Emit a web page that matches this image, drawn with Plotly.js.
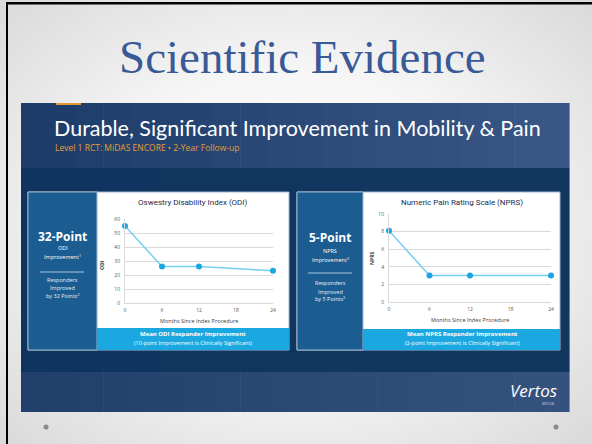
<!DOCTYPE html>
<html><head><meta charset="utf-8">
<script src="https://cdn.plot.ly/plotly-3.0.1.min.js"></script>
<style>
html,body{margin:0;padding:0;width:592px;height:444px;overflow:hidden;
background: radial-gradient(ellipse 75% 75% at 50% 50%, #ffffff 0%, #f6f6f6 45%, #d6d6d6 100%);}
#chart{width:592px;height:444px;}
</style></head><body><div id="chart"></div>
<script>
// ---- data ----
const months = [0, 6, 12, 24];
const odiValues = [55, 26, 26, 23];
const nprsValues = [8.1, 3.0, 3.0, 3.0];
const monthTicks = [0, 6, 12, 18, 24];
const odiTicks = [0, 10, 20, 30, 40, 50, 60];
const nprsTicks = [0, 2, 4, 6, 8, 10];

const W = 592, H = 444;
const px = x => x / W;
const py = y => 1 - y / H;

function lerpColor(a, b, t) {
  const pa = a.match(/\w\w/g).map(h => parseInt(h, 16));
  const pb = b.match(/\w\w/g).map(h => parseInt(h, 16));
  return 'rgb(' + pa.map((v, i) => Math.round(v + (pb[i] - v) * t)).join(',') + ')';
}

const shapes = [];
function rect(x0, y0, x1, y1, fill, line) {
  shapes.push({type: 'rect', xref: 'paper', yref: 'paper', x0: px(x0), x1: px(x1), y0: py(y1), y1: py(y0),
    fillcolor: fill, line: line || {width: 0}, layer: 'below'});
}
function strips(x0, x1, y0, y1, c0, c1, n) {
  const w = (x1 - x0) / n;
  for (let i = 0; i < n; i++) rect(x0 + i * w, y0, x0 + (i + 1) * w + 0.6, y1, lerpColor(c0, c1, (i + 0.5) / n));
}

// slide frame
rect(6, 2, 592, 4.5, '#000000');
rect(6, 2, 8, 444, '#000000');
// dark panel
strips(21, 569, 103, 168, '1d3b69', '3a5787', 20);
strips(21, 569, 168, 372, '0e335f', '12375f', 4);
strips(21, 569, 372, 412, '223f6c', '35527f', 20);
rect(56, 103, 81, 105, '#e19a33');

// cards
function card(x0, xb, x1, y0, yc, y1) {
  rect(x0, y0, x1, y1, '#ffffff', {color: '#9fb6d0', width: 1});
  rect(x0, y0, xb, y1, '#1b5d91', {color: '#9fb6d0', width: 1});
  rect(xb, yc, x1, y1, '#1ba8e0');
}
card(28, 97, 289, 192, 328, 350);
card(297, 363, 560, 192, 329, 350);
// divider lines
shapes.push({type: 'line', xref: 'paper', yref: 'paper', x0: px(40), x1: px(84), y0: py(272), y1: py(272), line: {color: '#a9c4de', width: 1}});
shapes.push({type: 'line', xref: 'paper', yref: 'paper', x0: px(308), x1: px(352), y0: py(273), y1: py(273), line: {color: '#a9c4de', width: 1}});
// dots
[[46, 427], [556, 427]].forEach(([x, y]) => shapes.push({type: 'circle', xref: 'paper', yref: 'paper',
  x0: px(x - 2.5), x1: px(x + 2.5), y0: py(y + 2.5), y1: py(y - 2.5), fillcolor: '#8a8a8a', line: {width: 0}}));

const ann = [];
function txt(x, y, text, size, color, family, extra) {
  ann.push(Object.assign({xref: 'paper', yref: 'paper', x: px(x), y: py(y), text: text, showarrow: false,
    xanchor: 'center', yanchor: 'middle', font: {size: size, color: color, family: family}}, extra || {}));
}
const sans = 'Open Sans, sans-serif';
txt(302, 57, 'Scientific Evidence', 47, '#3a5a97', 'Liberation Serif, serif');
txt(53, 128, 'Durable, Significant Improvement in Mobility &amp; Pain', 21.5, '#ffffff', 'Lato, sans-serif', {xanchor: 'left', borderpad: 0});
txt(54, 148, 'Level 1 RCT: MiDAS ENCORE • 2-Year Follow-up', 8.5, '#e59e35', sans, {xanchor: 'left', borderpad: 0});

// left card text
txt(62.5, 236, '<b>32-Point</b>', 12, '#ffffff', sans);
txt(62.5, 248, 'ODI', 5.5, '#ffffff', sans);
txt(62.5, 257, 'Improvement<sup>1</sup>', 5.5, '#ffffff', sans);
txt(62.5, 280, 'Responders', 5.5, '#e8eef5', sans);
txt(62.5, 288, 'Improved', 5.5, '#e8eef5', sans);
txt(62.5, 296, 'by 32 Points<sup>2</sup>', 5.5, '#e8eef5', sans);
txt(193, 202, 'Oswestry Disability Index (ODI)', 8, '#1c2c4c', 'Roboto, sans-serif');
txt(102, 265, '<b>ODI</b>', 5, '#404040', sans, {textangle: -90});
txt(199, 321, 'Months Since Index Procedure', 5.5, '#404040', sans);
txt(193, 334, '<b>Mean ODI Responder Improvement</b>', 6, '#ffffff', sans);
txt(193, 343, '(10-point Improvement is Clinically Significant)', 5.5, '#ffffff', sans);

// right card text
txt(330, 238, '<b>5-Point</b>', 12, '#ffffff', sans);
txt(330, 251, 'NPRS', 5.5, '#ffffff', sans);
txt(330, 260, 'Improvement<sup>2</sup>', 5.5, '#ffffff', sans);
txt(330, 283, 'Responders', 5.5, '#e8eef5', sans);
txt(330, 292, 'Improved', 5.5, '#e8eef5', sans);
txt(330, 299, 'by 5 Points<sup>3</sup>', 5.5, '#e8eef5', sans);
txt(462, 202, 'Numeric Pain Rating Scale (NPRS)', 8, '#1c2c4c', 'Roboto, sans-serif');
txt(372, 258, '<b>NPRS</b>', 5, '#404040', sans, {textangle: -90});
txt(470, 320, 'Months Since Index Procedure', 5.5, '#404040', sans);
txt(462, 334, '<b>Mean NPRS Responder Improvement</b>', 6, '#ffffff', sans);
txt(462, 343, '(2-point Improvement is Clinically Significant)', 5.5, '#ffffff', sans);

// logo
txt(533, 390, '<i>Vertos</i>', 17, '#ffffff', 'Open Sans, sans-serif');
txt(548, 404, 'MEDICAL', 3, '#c8d2e0', sans);

const tickFont = {family: 'Open Sans, sans-serif', size: 5, color: '#595959'};
function xAx(x0, x1, anchor) {
  return {domain: [px(x0), px(x1)], range: [0, 24], tickvals: monthTicks, showgrid: false, zeroline: false,
    showline: true, linecolor: '#d9d9d9', ticks: '', tickfont: tickFont, anchor: anchor, fixedrange: true, ticklabelstandoff: 2};
}
function yAx(y0, y1, range, ticks, anchor) {
  return {domain: [py(y0), py(y1)], range: range, tickvals: ticks, showgrid: true, gridcolor: '#d9d9d9', gridwidth: 1,
    zeroline: false, showline: true, linecolor: '#d9d9d9', ticks: '', tickfont: tickFont, anchor: anchor, fixedrange: true, ticklabelstandoff: 3};
}

const lineStyle = {color: '#74cff1', width: 1.5};
const markerStyle = {color: '#1ba6e1', size: 6};
const traces = [
  {x: months, y: odiValues, xaxis: 'x', yaxis: 'y', type: 'scatter', mode: 'lines+markers', line: lineStyle, marker: markerStyle, cliponaxis: false, name: 'ODI'},
  {x: months, y: nprsValues, xaxis: 'x2', yaxis: 'y2', type: 'scatter', mode: 'lines+markers', line: lineStyle, marker: markerStyle, cliponaxis: false, name: 'NPRS'}
];

const layout = {
  width: W, height: H, margin: {l: 0, r: 0, t: 0, b: 0},
  paper_bgcolor: 'rgba(0,0,0,0)', plot_bgcolor: 'rgba(0,0,0,0)',
  showlegend: false,
  xaxis: xAx(125, 273, 'y'),
  yaxis: yAx(303, 219, [0, 60], odiTicks, 'x'),
  xaxis2: xAx(389, 551, 'y2'),
  yaxis2: yAx(302, 214, [0, 10], nprsTicks, 'x2'),
  shapes: shapes,
  annotations: ann
};
Plotly.newPlot('chart', traces, layout, {staticPlot: true, displayModeBar: false});
</script></body></html>
